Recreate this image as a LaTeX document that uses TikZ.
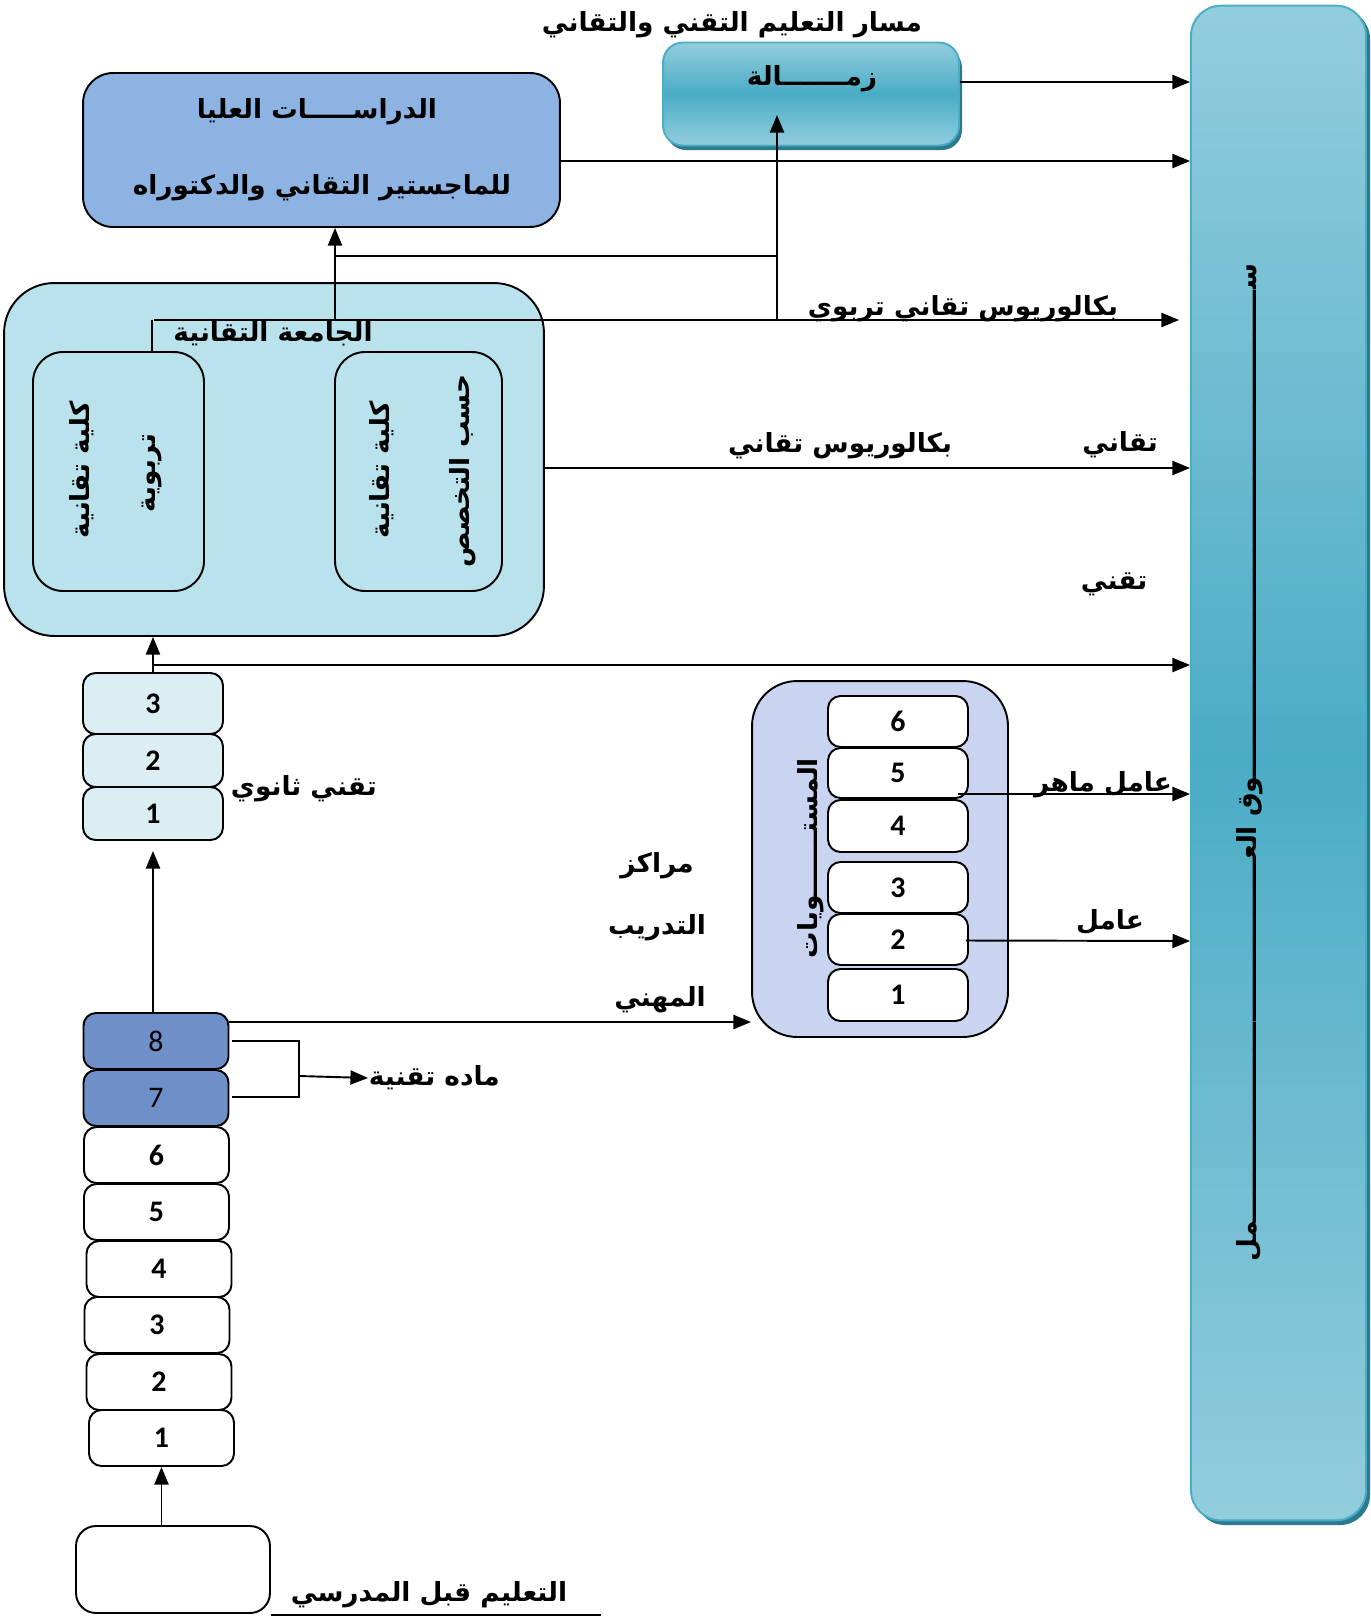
\documentclass[tikz,border=0pt]{standalone}
\usepackage{fontspec}
\setmainfont{Carlito}
\newfontfamily\arabicfont[Script=Arabic]{DejaVu Sans}
\TeXXeTstate=1
\usetikzlibrary{arrows.meta,calc}
\newcommand{\artxt}[1]{{\arabicfont\bfseries\beginR #1\endR}}
\definecolor{marketmid}{HTML}{4BACC6}
\definecolor{marketlight}{HTML}{93CDDD}
\definecolor{marketedge}{HTML}{2C7A8F}
\definecolor{studyblue}{HTML}{8DB3E2}
\definecolor{uniaqua}{HTML}{B9E2EC}
\definecolor{secaqua}{HTML}{DAEEF3}
\definecolor{gradeblue}{HTML}{6F8FC8}
\definecolor{levlav}{HTML}{C9D4F1}
\tikzset{
  arr/.style={-{Triangle[length=10pt,width=8pt]}},
  stackbox/.style={draw,fill=white,rounded corners=0.25cm,minimum width=2.9cm,minimum height=1.12cm,inner sep=0pt,font=\bfseries\fontsize{17}{20}\selectfont},
  lbl/.style={font=\fontsize{15}{18}\selectfont,inner sep=0pt},
}
\begin{document}
\begin{tikzpicture}[x=0.02cm,y=-0.02cm,line width=1.1pt]
\useasboundingbox (0,0) rectangle (1371,1616);
%labour market
\fill[marketedge,rounded corners=0.6cm] (1195,9) rectangle (1370,1525);
\node[draw=marketmid,top color=marketlight,bottom color=marketlight,middle color=marketmid,rounded corners=0.6cm,minimum width=3.5cm,minimum height=30.3cm,inner sep=0pt] (market) at (1278.5,763) {};
\node[lbl,rotate=90] (markettxt) at (1250,763) {\artxt{ســــــــــــــــــــــــــــــــــــــــــــــــــــــوق العــــــــــــــــــــــــــــــــــــــــمل}};
%fellowship
\fill[marketedge,rounded corners=0.4cm] (666,48) rectangle (962,150);
\node[draw=marketmid,top color=marketlight,bottom color=marketlight,middle color=marketmid,rounded corners=0.4cm,minimum width=5.92cm,minimum height=2.06cm,inner sep=0pt] (zamala) at (811,94) {};
\node[lbl] (zamalatxt) at (812,79) {\artxt{زمـــــــالة}};
\node[lbl] (track) at (732,25) {\artxt{مسار التعليم التقني والتقاني}};
%graduate studies
\node[draw,fill=studyblue,rounded corners=0.6cm,minimum width=9.54cm,minimum height=3.08cm,inner sep=0pt] (study) at (321.5,150) {};
\node[lbl] (studytxt) at (317,112) {\artxt{الدراســـــات العليا}};
\node[lbl] (studytxtb) at (322,188) {\artxt{للماجستير التقاني والدكتوراه}};
%technical university
\node[draw,fill=uniaqua,rounded corners=1cm,minimum width=10.8cm,minimum height=7.06cm,inner sep=0pt] (univ) at (274,459.5) {};
\node[draw,rounded corners=0.6cm,minimum width=3.42cm,minimum height=4.78cm,inner sep=0pt] (kleft) at (118.5,471.5) {};
\node[draw,rounded corners=0.6cm,minimum width=3.34cm,minimum height=4.78cm,inner sep=0pt] (kright) at (418.5,471.5) {};
\node[lbl,rotate=90] (kleftA) at (82,470) {\artxt{كلية تقانية}};
\node[lbl,rotate=90] (kleftB) at (152,473) {\artxt{تربوية}};
\node[lbl,rotate=90] (krightA) at (382,470) {\artxt{كلية تقانية}};
\node[lbl,rotate=90] (krightB) at (463,471) {\artxt{حسب التخصص}};
\node[lbl] (univtxt) at (273,334) {\artxt{الجامعة التقانية}};
%lines to the top
\coordinate (tb) at (154,320);
\coordinate (jd) at (335,320);
\coordinate (jz) at (777,320);
\draw[arr] (zamala.east |- 0,82) -- (market.west |- 0,82);
\draw[arr] (study.east |- 0,161) -- (market.west |- 0,161);
\draw[arr,shorten >=0.22cm] (tb) -- (market.west |- tb);
\draw (tb -| kleftB) -- (kleft.north -| kleftB);
\draw[arr] (jd) -- (jd |- study.south);
\draw (jd |- 0,256) -- (jz |- 0,256);
\draw[arr] (jz) -- (jz |- 0,115);
\node[lbl] (bted) at (963,309) {\artxt{بكالوريوس تقاني تربوي}};
\draw[arr] (univ.east |- 0,468) -- (market.west |- 0,468);
\node[lbl] (btech) at (840,446) {\artxt{بكالوريوس تقاني}};
\node[lbl] (taqani) at (1120,445) {\artxt{تقاني}};
\node[lbl] (taqni) at (1114,584) {\artxt{تقني}};
%technical secondary
\node[stackbox,fill=secaqua,minimum width=2.8cm,minimum height=1.22cm] (sec3) at (153,703.5) {3};
\node[stackbox,fill=secaqua,minimum width=2.8cm,minimum height=1.06cm] (sec2) at (153,760.5) {2};
\node[stackbox,fill=secaqua,minimum width=2.8cm,minimum height=1.06cm] (sec1) at (153,813.5) {1};
\node[lbl,anchor=west] (sectxt) at (230,789) {\artxt{تقني ثانوي}};
\coordinate (ts) at (153,665);
\draw[arr] (ts) -- (market.west |- ts);
\draw[arr] (sec3.north) -- (sec3.north |- univ.south);
%basic grades
\foreach \g/\cx/\cy in {6/156.5/1155, 5/156.5/1212, 4/159/1269, 3/157/1325, 2/159/1382, 1/161.5/1438}
  \node[stackbox] (g\g) at (\cx,\cy) {\g};
\foreach \g/\cy in {8/1041, 7/1098}
  \node[stackbox,fill=gradeblue,font=\fontsize{17}{20}\selectfont] (g\g) at (156,\cy) {\g};
\draw[arr,shorten >=0.2cm] (sec1.south |- g8.north) -- (sec1.south);
\draw ($(g8.east)+(3,0)$) -- (299,1041) -- (299,1097) -- ($(g7.east)+(3,-1)$);
\coordinate (brk) at (299,1076);
\node[lbl,anchor=west] (mada) at (368,1078) {\artxt{ماده تقنية}};
\draw[arr] (brk) -- (mada.west);
%preschool
\node[draw,rounded corners=0.4cm,minimum width=3.88cm,minimum height=1.74cm,inner sep=0pt] (pre) at (173,1569.5) {};
\draw[arr] (pre.north -| g1.south) -- (g1.south);
\node[lbl] (pretxt) at (429,1595) {\artxt{التعليم قبل المدرسي}};
\draw (pre.east |- 0,1615) -- (601,1615);
%vocational training levels
\node[draw,fill=levlav,rounded corners=0.9cm,minimum width=5.12cm,minimum height=7.12cm,inner sep=0pt] (lev) at (880,859) {};
\foreach \l/\cy/\h in {6/721.5/1.02, 5/773/1.0, 4/826/1.04, 3/887.5/1.02, 2/939.5/1.02, 1/995/1.04}
  \node[stackbox,minimum width=2.8cm,minimum height=\h cm] (lev\l) at (898,\cy) {\l};
\node[lbl,rotate=90] (levtxt) at (811,858) {\artxt{المستـــــــويات}};
\draw[arr] (g8.east |- 0,1022) -- (lev.west |- 0,1022);
\node[lbl] (markaz) at (657,866) {\artxt{مراكز}};
\node[lbl] (tadrib) at (657,928) {\artxt{التدريب}};
\node[lbl] (mihani) at (660,1000) {\artxt{المهني}};
\draw[arr] ($(lev5.east)+(-11,21)$) -- (market.west |- 0,794);
\node[lbl] (skilled) at (1103,785) {\artxt{عامل ماهر}};
\draw[arr] ($(lev2.east)+(-3,1)$) -- (market.west |- 0,941);
\node[lbl] (worker) at (1110,922) {\artxt{عامل}};
\end{tikzpicture}
\end{document}
